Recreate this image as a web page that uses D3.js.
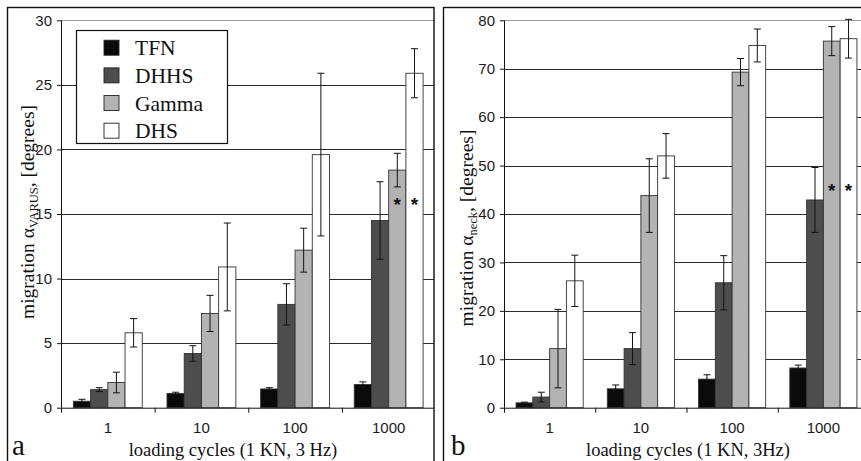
<!DOCTYPE html>
<html>
<head>
<meta charset="utf-8">
<title>Migration under loading cycles</title>
<script src="https://d3js.org/d3.v7.min.js"></script>
<style>
body { margin: 0; padding: 0; background: #fff; }
svg { display: block; }
</style>
</head>
<body>
<div id="chart"></div>
<script>

// categories and series
var categories = ["1", "10", "100", "1000"];
var series = ["TFN", "DHHS", "Gamma", "DHS"];
var colors = ["#0a0a0a", "#4d4d4d", "#b3b3b3", "#ffffff"];

// panel a: varus migration, one row per series
var varusMean = [
  [0.5, 1.1, 1.45, 1.8],
  [1.4, 4.2, 8.0, 14.5],
  [1.95, 7.3, 12.2, 18.4],
  [5.8, 10.9, 19.6, 25.9]
];
var varusErr = [
  [0.15, 0.1, 0.1, 0.2],
  [0.15, 0.6, 1.6, 3.0],
  [0.8, 1.4, 1.7, 1.3],
  [1.1, 3.4, 6.3, 1.9]
];
var varusTicks = [0, 5, 10, 15, 20, 25, 30];

// panel b: neck migration
var neckMean = [
  [1.0, 3.9, 5.9, 8.2],
  [2.2, 12.2, 25.8, 42.9],
  [12.2, 43.8, 69.3, 75.7],
  [26.2, 52.0, 74.8, 76.2]
];
var neckErr = [
  [0.15, 0.8, 0.9, 0.6],
  [1.0, 3.3, 5.6, 6.7],
  [8.1, 7.6, 2.8, 3.0],
  [5.3, 4.6, 3.4, 4.0]
];
var neckTicks = [0, 10, 20, 30, 40, 50, 60, 70, 80];

// significance marks: [series, category, value]
var varusStars = [["Gamma", "1000", 16], ["DHS", "1000", 16]];
var neckStars = [["Gamma", "1000", 45.5], ["DHS", "1000", 45.5]];

var W = 861, H = 461;
var sans = "'Liberation Sans', Arial, sans-serif";
var serif = "'Liberation Serif', 'Times New Roman', serif";

var svg = d3.select("#chart").append("svg")
  .attr("width", W).attr("height", H);

function panel(opt) {
  var g = svg.append("g");
  var clipId = "clip-" + opt.letter;
  svg.append("clipPath").attr("id", clipId)
    .append("rect").attr("x", opt.frame[0]).attr("y", opt.frame[1])
    .attr("width", opt.frame[2] - opt.frame[0]).attr("height", H);

  var x = d3.scaleBand().domain(categories).range(opt.xr).paddingInner(0).paddingOuter(0);
  var xs = d3.scaleBand().domain(series).range([0, x.bandwidth()]).paddingInner(0).paddingOuter(0.72);
  var y = d3.scaleLinear().domain([0, opt.ticks[opt.ticks.length - 1]]).range([407.7, 20.3]);

  var plot = g.append("g").attr("clip-path", "url(#" + clipId + ")");

  // gridlines
  plot.selectAll(".grid").data(opt.ticks.slice(1)).enter().append("line")
    .attr("x1", opt.xr[0]).attr("x2", opt.xr[1])
    .attr("y1", function(d) { return Math.round(y(d)) + 0.5; })
    .attr("y2", function(d) { return Math.round(y(d)) + 0.5; })
    .attr("stroke", function(d, i) { return i == opt.ticks.length - 2 ? "#9a9a9a" : "#2a2a2a"; })
    .attr("stroke-width", 1);

  // bars
  var rows = [];
  series.forEach(function(s, si) {
    categories.forEach(function(c, ci) {
      rows.push({s: s, c: c, v: opt.mean[si][ci], e: opt.err[si][ci], col: colors[si]});
    });
  });
  plot.selectAll(".bar").data(rows).enter().append("rect")
    .attr("x", function(d) { return x(d.c) + xs(d.s); })
    .attr("y", function(d) { return y(d.v); })
    .attr("width", xs.bandwidth())
    .attr("height", function(d) { return y(0) - y(d.v); })
    .attr("fill", function(d) { return d.col; })
    .attr("stroke", "#333").attr("stroke-width", 0.9);

  // error bars
  var eb = plot.selectAll(".err").data(rows).enter().append("g")
    .attr("stroke", "#111").attr("stroke-width", 1);
  eb.append("line")
    .attr("x1", function(d) { return x(d.c) + xs(d.s) + xs.bandwidth() / 2; })
    .attr("x2", function(d) { return x(d.c) + xs(d.s) + xs.bandwidth() / 2; })
    .attr("y1", function(d) { return y(d.v + d.e); })
    .attr("y2", function(d) { return y(Math.max(0, d.v - d.e)); });
  [1, -1].forEach(function(sg) {
    eb.append("line")
      .attr("x1", function(d) { return x(d.c) + xs(d.s) + xs.bandwidth() / 2 - 3.5; })
      .attr("x2", function(d) { return x(d.c) + xs(d.s) + xs.bandwidth() / 2 + 3.5; })
      .attr("y1", function(d) { return y(Math.max(0, d.v + sg * d.e)); })
      .attr("y2", function(d) { return y(Math.max(0, d.v + sg * d.e)); });
  });

  // significance stars
  plot.selectAll(".star").data(opt.stars).enter().append("text")
    .attr("x", function(d) { return x(d[1]) + xs(d[0]) + xs.bandwidth() / 2; })
    .attr("y", function(d) { return y(d[2]) + 10; })
    .attr("text-anchor", "middle")
    .attr("font-family", sans).attr("font-size", 19).attr("font-weight", 700)
    .attr("fill", "#111")
    .text("*");

  // y axis
  var ya = g.append("g").attr("transform", "translate(" + opt.xr[0] + ",0)")
    .call(d3.axisLeft(y).tickValues(opt.ticks).tickSize(4).tickPadding(5));
  ya.select(".domain").attr("stroke", "#111").attr("d", "M0.5," + y(0) + "V" + y(opt.ticks[opt.ticks.length - 1]));
  ya.selectAll(".tick line").attr("stroke", "#111");
  ya.selectAll("text").attr("font-family", sans).attr("font-size", 15).attr("fill", "#1a1a1a");

  // x axis
  var xa = plot.append("g");
  xa.append("line").attr("x1", opt.xr[0]).attr("x2", opt.xr[1])
    .attr("y1", y(0) + 0.5).attr("y2", y(0) + 0.5).attr("stroke", "#111");
  xa.selectAll(".xt").data(categories.concat(["end"])).enter().append("line")
    .attr("x1", function(d) { return (d == "end" ? opt.xr[1] : x(d)) + 0.5; })
    .attr("x2", function(d) { return (d == "end" ? opt.xr[1] : x(d)) + 0.5; })
    .attr("y1", y(0)).attr("y2", y(0) + 5).attr("stroke", "#111");
  xa.selectAll(".xl").data(categories).enter().append("text")
    .attr("x", function(d) { return x(d) + x.bandwidth() / 2; })
    .attr("y", 433)
    .attr("text-anchor", "middle")
    .attr("font-family", sans).attr("font-size", 15).attr("fill", "#1a1a1a")
    .text(function(d) { return d; });

  // x title
  g.append("text").attr("x", opt.xTitleX).attr("y", 456)
    .attr("text-anchor", "middle").attr("font-family", serif).attr("font-size", 18.5)
    .attr("fill", "#111").text(opt.xTitle);

  // y title with subscript
  var yt = g.append("text")
    .attr("transform", "translate(" + opt.yTitlePos[0] + "," + opt.yTitlePos[1] + ") rotate(-90)")
    .attr("text-anchor", "middle").attr("font-family", serif).attr("font-size", 19.5).attr("fill", "#111");
  yt.append("tspan").text("migration \u03b1");
  yt.append("tspan").attr("font-size", 12.5).attr("dy", 4).text(opt.sub);
  yt.append("tspan").attr("dy", -4).text(", [degrees]");

  // panel letter
  g.append("text").attr("x", opt.letterX).attr("y", 455)
    .attr("font-family", serif).attr("font-size", 29).attr("fill", "#111")
    .text(opt.letter);

  // frame
  svg.append("rect")
    .attr("x", opt.frame[0]).attr("y", opt.frame[1])
    .attr("width", opt.frame[2] - opt.frame[0]).attr("height", H + 20)
    .attr("fill", "none").attr("stroke", "#111").attr("stroke-width", 1.4);

  return {x: x, y: y};
}

panel({
  letter: "a", letterX: 12,
  frame: [7.5, 7.5, 434],
  xr: [61, 435.5],
  ticks: varusTicks, mean: varusMean, err: varusErr, stars: varusStars,
  xTitle: "loading cycles (1 KN, 3 Hz)", xTitleX: 233,
  sub: "VARUS", yTitlePos: [34, 212]
});

panel({
  letter: "b", letterX: 451,
  frame: [443.5, 7.5, 875],
  xr: [504, 869],
  ticks: neckTicks, mean: neckMean, err: neckErr, stars: neckStars,
  xTitle: "loading cycles (1 KN, 3Hz)", xTitleX: 688,
  sub: "neck", yTitlePos: [473, 228]
});

// legend in panel a
var legend = svg.append("g");
legend.append("rect").attr("x", 76.5).attr("y", 30.5).attr("width", 151).attr("height", 113)
  .attr("fill", "#fff").attr("stroke", "#111").attr("stroke-width", 1.2);
var rowY = d3.scalePoint().domain(series).range([47.7, 130.7]);
var li = legend.selectAll(".li").data(series).enter().append("g");
li.append("rect")
  .attr("x", 104).attr("y", function(d) { return rowY(d) - 7.5; })
  .attr("width", 15).attr("height", 15)
  .attr("fill", function(d, i) { return colors[i]; })
  .attr("stroke", "#222").attr("stroke-width", 0.9);
li.append("text")
  .attr("x", 135).attr("y", function(d) { return rowY(d) + 7.5; })
  .attr("font-family", serif).attr("font-size", 21.5).attr("fill", "#111")
  .text(function(d) { return d; });

</script>
</body>
</html>
